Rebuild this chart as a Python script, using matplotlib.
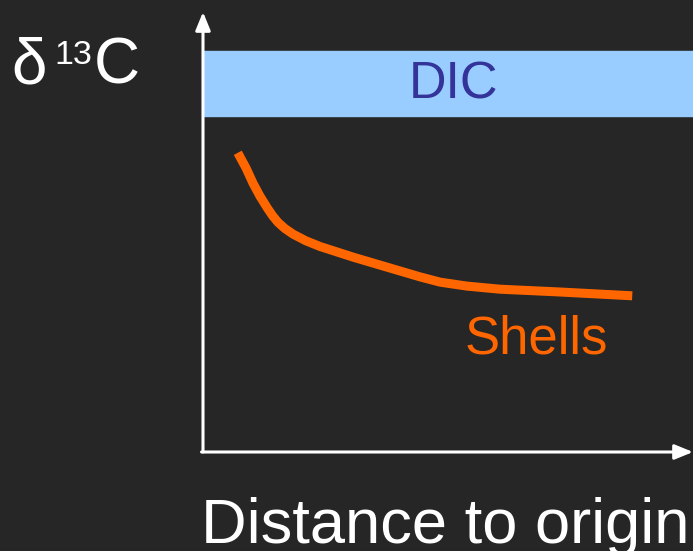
import matplotlib
matplotlib.use("Agg")
import matplotlib.pyplot as plt
import numpy as np

plt.rcParams['font.family'] = ['Liberation Sans', 'DejaVu Sans']

# Shell curve (distance to origin vs d13C, arbitrary units)
dist = [0.71, 0.88, 1.02, 1.16, 1.31, 1.42, 1.53, 1.67, 1.84, 2.10, 2.39, 3.06,
        3.82, 4.43, 4.84, 5.39, 6.06, 7.22, 8.76]
d13c = [6.80, 6.45, 6.11, 5.82, 5.55, 5.37, 5.22, 5.08, 4.95, 4.80, 4.67, 4.43,
        4.18, 3.98, 3.86, 3.77, 3.70, 3.64, 3.55]
# DIC band
dic_low, dic_high = 7.64, 9.11

bg = '#262626'
fig = plt.figure(figsize=(6.93, 5.51), dpi=100, facecolor=bg)
ax = fig.add_axes([203/693, 99/551, 490/693, 440/551])
ax.set_facecolor(bg)
ax.set_xlim(0, 10)
ax.set_ylim(0, 10)
for s in ax.spines.values():
    s.set_visible(False)
ax.set_xticks([])
ax.set_yticks([])

ax.axhspan(dic_low, dic_high, color='#99ccff', zorder=1)
ax.text(5.12, (dic_low + dic_high) / 2 - 0.03, 'DIC', color='#333399', fontsize=37.5,
        ha='center', va='center', zorder=3)

ax.plot(dist, d13c, color='#ff6600', lw=6.5, solid_capstyle='butt',
        solid_joinstyle='round', zorder=2)
ax.text(5.33, 2.25, 'Shells', color='#ff6600', fontsize=38, ha='left', va='baseline')

# axes with arrows
arw = dict(arrowstyle='-|>,head_length=1.1,head_width=0.45', color='white', lw=2.2,
           shrinkA=0, shrinkB=0)
ax.annotate('', xy=(0, 1.0), xytext=(0, 0), xycoords='axes fraction',
            arrowprops=arw, annotation_clip=False, zorder=5)
ax.annotate('', xy=(1.0, 0), xytext=(-0.003, 0), xycoords='axes fraction',
            arrowprops=arw, annotation_clip=False, zorder=5)

# y label: delta 13 C
fig.text(11/693, 1 - 83/551, 'δ', color='white', fontsize=46, va='baseline')
fig.text(54/693, 1 - 64/551, '13', color='white', fontsize=24.5, va='baseline')
fig.text(94/693, 1 - 83/551, 'C', color='white', fontsize=46, va='baseline')
fig.text(201/693, 1 - 543/551, 'Distance to origin', color='white', fontsize=45.5,
         va='baseline')

fig.savefig('out.png', dpi=100, facecolor=bg)
